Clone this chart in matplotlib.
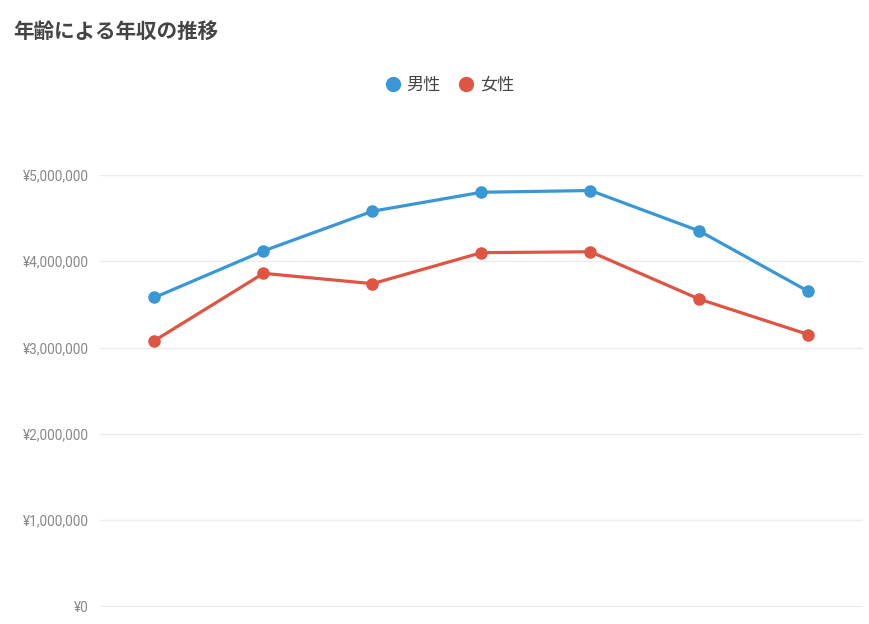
import matplotlib
matplotlib.use('Agg')
import matplotlib.pyplot as plt
from matplotlib.lines import Line2D
from matplotlib.ticker import FuncFormatter
import numpy as np

plt.rcParams['font.family'] = ['Roboto', 'Noto Sans CJK JP', 'DejaVu Sans']

# 年齢区分ごとの年収（円）
male = [3580000, 4120000, 4580000, 4800000, 4820000, 4350000, 3650000]
female = [3080000, 3860000, 3740000, 4100000, 4110000, 3560000, 3150000]
yticks = [0, 1000000, 2000000, 3000000, 4000000, 5000000]
series_names = ['男性', '女性']
colors = ['#3a97d6', '#e05443']

fig = plt.figure(figsize=(8.7, 6.24), dpi=100)
ax = fig.add_axes([100 / 870, 17 / 624, 763 / 870, 432 / 624])

x = np.arange(len(male))
for vals, c in zip([male, female], colors):
    ax.plot(x, vals, color=c, linewidth=2.3, marker='o', markersize=8,
            clip_on=False, zorder=3)

ax.set_xlim(-0.5, len(male) - 0.5)
ax.set_ylim(-8000, 5000000)
ax.set_yticks(yticks)
ax.yaxis.set_major_formatter(FuncFormatter(lambda v, p: '¥{:,.0f}'.format(v)))
ax.set_xticks([])
ax.tick_params(axis='y', length=0, pad=8, labelsize=9.8, labelcolor='#888888')
ax.grid(axis='y', color='#ececec', linewidth=1)
ax.set_axisbelow(True)
for s in ax.spines.values():
    s.set_visible(False)

fig.text(13 / 870, 1 - 31 / 624, '年齢による年収の推移', fontsize=14.8,
         fontweight='bold', color='#444444', va='center', ha='left',
         family=['Noto Sans CJK JP', 'DejaVu Sans'])

handles = [Line2D([], [], marker='o', linestyle='', markersize=10, color=c)
           for c in colors]
fig.legend(handles, series_names, loc='center', bbox_to_anchor=(449 / 870, 1 - 85 / 624),
           ncol=2, frameon=False, handlelength=1.0, handletextpad=0.3,
           columnspacing=1.0, labelcolor='#444444',
           prop={'family': ['Noto Sans CJK JP', 'DejaVu Sans'], 'size': 12.3})

fig.savefig('out.png', dpi=100, facecolor='white')
